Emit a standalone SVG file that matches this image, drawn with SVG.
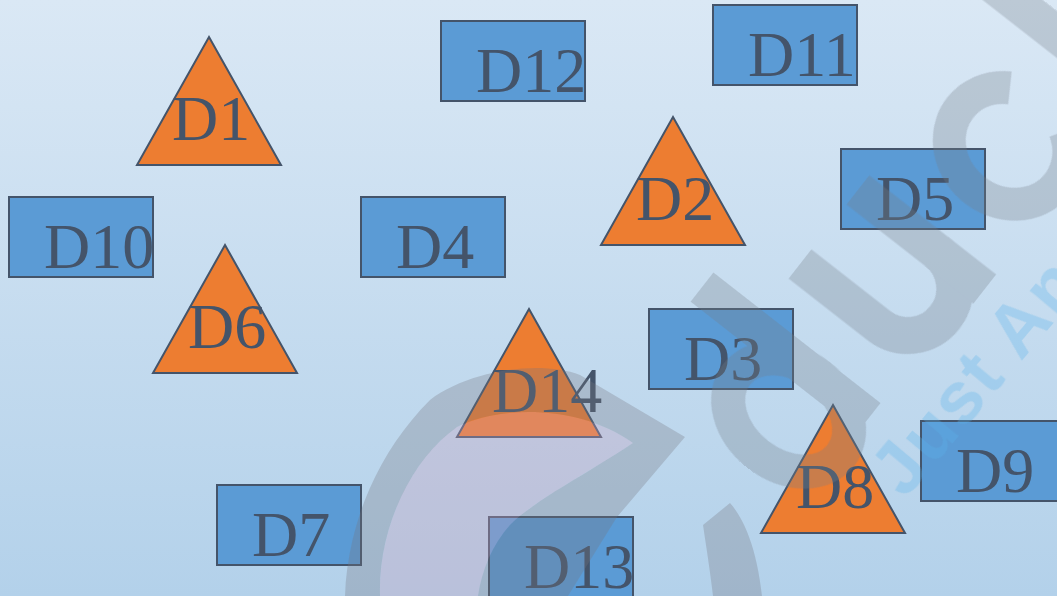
<svg xmlns="http://www.w3.org/2000/svg" width="1057" height="596" viewBox="0 0 1057 596">
  <defs>
    <linearGradient id="bg" x1="0" y1="0" x2="0" y2="1">
      <stop offset="0" stop-color="#dae8f5"/>
      <stop offset="1" stop-color="#b3d1ea"/>
    </linearGradient>
    <style>
      .box { fill: #5b9bd5; stroke: #44546a; stroke-width: 2; }
      .tri { fill: #ed7d31; stroke: #44546a; stroke-width: 2; stroke-linejoin: miter; }
      .lbl { font-family: "Liberation Serif", "Times New Roman", serif; font-size: 64px; fill: #44546a; }
      .mark { fill: none; stroke: #777f8a; stroke-linecap: butt; }
    </style>
  </defs>

  <!-- page background -->
  <rect x="0" y="0" width="1057" height="596" fill="url(#bg)"/>

  <!-- no links between the nodes -->
  <g id="connectors"></g>

  <!-- triangle nodes -->
  <g id="node-D1">
    <polygon class="tri" points="209,37 281,165 137,165"/>
    <text class="lbl" x="172" y="140">D1</text>
  </g>
  <g id="node-D2">
    <polygon class="tri" points="673,117 745,245 601,245"/>
    <text class="lbl" x="636" y="220">D2</text>
  </g>
  <g id="node-D6">
    <polygon class="tri" points="225,245 297,373 153,373"/>
    <text class="lbl" x="188" y="348">D6</text>
  </g>
  <g id="node-D14">
    <polygon class="tri" points="529,309 601,437 457,437"/>
    <text class="lbl" x="492" y="412">D14</text>
  </g>
  <g id="node-D8">
    <polygon class="tri" points="833,405 905,533 761,533"/>
    <text class="lbl" x="796" y="508">D8</text>
  </g>

  <!-- rectangle nodes -->
  <g id="node-D12">
    <rect class="box" x="441" y="21" width="144" height="80"/>
    <text class="lbl" x="476" y="92">D12</text>
  </g>
  <g id="node-D11">
    <rect class="box" x="713" y="5" width="144" height="80"/>
    <text class="lbl" x="748" y="76">D11</text>
  </g>
  <g id="node-D10">
    <rect class="box" x="9" y="197" width="144" height="80"/>
    <text class="lbl" x="44" y="268">D10</text>
  </g>
  <g id="node-D4">
    <rect class="box" x="361" y="197" width="144" height="80"/>
    <text class="lbl" x="396" y="268">D4</text>
  </g>
  <g id="node-D5">
    <rect class="box" x="841" y="149" width="144" height="80"/>
    <text class="lbl" x="876" y="220">D5</text>
  </g>
  <g id="node-D3">
    <rect class="box" x="649" y="309" width="144" height="80"/>
    <text class="lbl" x="684" y="380">D3</text>
  </g>
  <g id="node-D9">
    <rect class="box" x="921" y="421" width="144" height="80"/>
    <text class="lbl" x="956" y="492">D9</text>
  </g>
  <g id="node-D7">
    <rect class="box" x="217" y="485" width="144" height="80"/>
    <text class="lbl" x="252" y="556">D7</text>
  </g>
  <g id="node-D13">
    <rect class="box" x="489" y="517" width="144" height="80"/>
    <text class="lbl" x="524" y="588">D13</text>
  </g>

  <!-- translucent logo mark laid over the page -->
  <g id="watermark">
    <!-- lavender inner band of the large curved letter -->
    <path fill="#c8a0bc" opacity="0.32"
          d="M380,596 C378,530 410,460 457,427 C500,405 580,405 633,443 C585,475 535,500 510,525 C492,545 482,570 478,596 Z"/>
    <g opacity="0.3">
      <!-- large curved letter, grey outline around the inner band -->
      <path fill="#777781" fill-rule="evenodd"
            d="M345,596 C348,520 380,450 430,400 C470,370 540,360 580,375 L685,437 L617,517 L568,596 Z
               M380,596 C378,530 410,460 457,427 C500,405 580,405 633,443 C585,475 535,500 510,525 C492,545 482,570 478,596 Z"/>
      <!-- short curved stroke below -->
      <path fill="#777781" d="M703,525 L730,503 C745,520 757,550 762,596 L713,596 C710,570 706,545 703,525 Z"/>
      <!-- tilted letters: d, u, C and a stem -->
      <g transform="translate(800,264) rotate(-52)">
        <path class="mark" stroke-width="37" d="M-78.5,-63 V149"/>
        <ellipse class="mark" stroke-width="34" cx="-126" cy="84" rx="50" ry="66"/>
        <path class="mark" stroke-width="37" d="M0,0 V100 A47,47 0 0 0 94,100"/>
        <path class="mark" stroke-width="37" d="M94,0 V161"/>
        <path class="mark" stroke-width="33" d="M268,57 A56,62 0 1 0 268,127"/>
        <path class="mark" stroke-width="37" d="M339,-150 V90"/>
      </g>
    </g>
    <!-- light blue slogan -->
    <text transform="translate(905,500) rotate(-50)" x="0" y="0"
          font-family="'Liberation Sans', Arial, sans-serif" font-weight="bold" font-size="74"
          letter-spacing="2" fill="#5ab4ea" opacity="0.3">Just An</text>
  </g>
</svg>
